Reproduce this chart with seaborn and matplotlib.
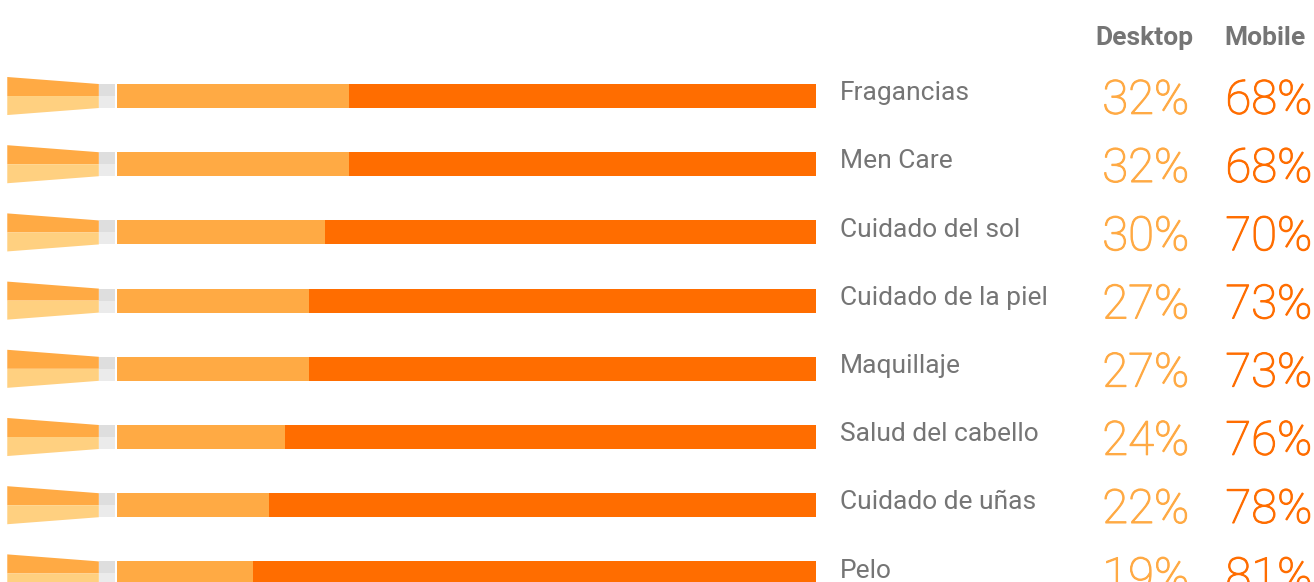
import numpy as np
import pandas as pd
import seaborn as sns
import matplotlib.pyplot as plt
import matplotlib.patheffects as pe
from matplotlib.patches import Polygon, Rectangle

# data
categories = ['Fragancias', 'Men Care', 'Cuidado del sol', 'Cuidado de la piel',
              'Maquillaje', 'Salud del cabello', 'Cuidado de uñas', 'Pelo']
# printed labels
desktop_pct = [32, 32, 30, 27, 27, 24, 22, 19]
mobile_pct = [68, 68, 70, 73, 73, 76, 78, 81]
# desktop share as drawn by the bars
desktop_share = [33.2, 33.2, 29.8, 27.5, 27.5, 24.0, 21.7, 19.5]

desktop_col = '#FFAA44'
mobile_col = '#FF6D00'
tip_light = '#FFD080'
gray_txt = '#757575'

sns.set_theme(style='white')
plt.rcParams['font.family'] = ['Roboto', 'DejaVu Sans']

df = pd.DataFrame({'cat': categories, 'desktop': desktop_share})
df['total'] = 100

fig = plt.figure(figsize=(13.14, 5.82), dpi=100)
ax = fig.add_axes([0, 0, 1, 1])

bar_w = 0.352
sns.barplot(data=df, x='total', y='cat', color=mobile_col, width=bar_w,
            saturation=1, linewidth=0, ax=ax)
sns.barplot(data=df, x='desktop', y='cat', color=desktop_col, width=bar_w,
            saturation=1, linewidth=0, ax=ax)

# pencil tip + ferrule on the left of each bar
h = bar_w / 2
for i in range(len(categories)):
    ax.add_patch(Polygon([(-15.7, i - 0.279), (-2.6, i - h), (-2.6, i), (-15.7, i)],
                         closed=True, color=desktop_col, lw=0))
    ax.add_patch(Polygon([(-15.7, i + 0.279), (-2.6, i + h), (-2.6, i), (-15.7, i)],
                         closed=True, color=tip_light, lw=0))
    ax.add_patch(Rectangle((-2.6, i - h), 2.3, h, color='#DEDEDE', lw=0))
    ax.add_patch(Rectangle((-2.6, i), 2.3, h, color='#EBEBEB', lw=0))

    ax.text(103.4, i - 0.04, categories[i], fontsize=19, color=gray_txt,
            ha='left', va='center')
    # light digits, thickened a touch with a same-colour stroke
    ax.text(153.4, i + 0.07, f'{desktop_pct[i]}%', fontsize=34, color=desktop_col,
            fontweight='light', ha='right', va='center',
            path_effects=[pe.withStroke(linewidth=0.8, foreground=desktop_col)])
    ax.text(171.0, i + 0.07, f'{mobile_pct[i]}%', fontsize=34, color=mobile_col,
            fontweight='light', ha='right', va='center',
            path_effects=[pe.withStroke(linewidth=0.8, foreground=mobile_col)])

ax.text(147.0, -0.85, 'Desktop', fontsize=19, color=gray_txt, fontweight='bold',
        ha='center', va='center')
ax.text(164.2, -0.85, 'Mobile', fontsize=19, color=gray_txt, fontweight='bold',
        ha='center', va='center')

ax.set_xlim(-16.74, 171.24)
ax.set_ylim(7.126, -1.408)
ax.axis('off')

fig.savefig('out.png', dpi=100)
